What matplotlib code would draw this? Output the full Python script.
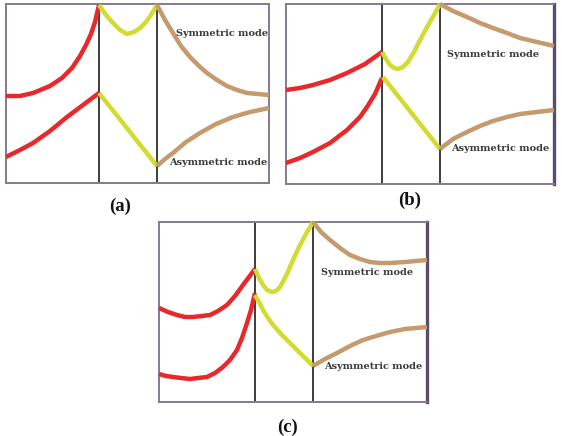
import numpy as np
import matplotlib
matplotlib.use("Agg")
import matplotlib.pyplot as plt

# colores
rojo = '#e8282a'
amarillo = '#d2dc30'
marron = '#c49a6e'

# cajas de cada panel en pixeles (izq, arriba, der, abajo)
cajas = {'a': (6, 4, 269, 183), 'b': (286, 4, 554, 184), 'c': (159, 222, 427, 402)}
divisiones = {'a': [99, 157], 'b': [382, 440], 'c': [255, 313]}

# panel (a)
a_sim_rojo_x = [6, 20, 33, 50, 62, 72, 80, 86, 91, 95, 99]
a_sim_rojo_y = [96, 96, 93, 86, 78, 68, 56, 45, 34, 22, 5]
a_asim_rojo_x = [6, 20, 33, 50, 67, 83, 99]
a_asim_rojo_y = [157, 150, 143, 131, 117, 105, 93]
a_sim_amar_x = [99, 106, 113, 120, 127, 134, 140, 146, 151, 157]
a_sim_amar_y = [5, 15, 23, 30, 34, 32, 28, 22, 15, 5]
a_asim_amar_x = [99, 157]
a_asim_amar_y = [93, 166]
a_sim_marr_x = [157, 165, 173, 181, 190, 199, 207, 217, 227, 237, 247, 258, 269]
a_sim_marr_y = [5, 20, 33, 46, 57, 66, 73, 80, 86, 90, 93, 94, 95]
a_asim_marr_x = [157, 165, 173, 186, 200, 216, 233, 250, 269]
a_asim_marr_y = [166, 159, 153, 142, 133, 124, 117, 112, 108]

# panel (b)
b_sim_rojo_x = [286, 300, 313, 330, 347, 365, 382]
b_sim_rojo_y = [90, 88, 85, 80, 73, 64, 52]
b_asim_rojo_x = [286, 300, 313, 330, 347, 360, 367, 375, 382]
b_asim_rojo_y = [163, 158, 152, 143, 130, 117, 107, 94, 78]
b_sim_amar_x = [382, 386, 390, 394, 398, 403, 408, 414, 420, 427, 434, 440]
b_sim_amar_y = [52, 59, 65, 68, 69, 67, 62, 52, 40, 27, 15, 4]
b_asim_amar_x = [383, 440]
b_asim_amar_y = [77, 149]
b_sim_marr_x = [440, 453, 467, 480, 493, 507, 520, 537, 554]
b_sim_marr_y = [4, 11, 17, 23, 28, 33, 38, 42, 46]
b_asim_marr_x = [440, 453, 467, 480, 493, 507, 520, 537, 554]
b_asim_marr_y = [149, 139, 132, 126, 121, 117, 114, 112, 110]

# panel (c)
c_sim_rojo_x = [159, 168, 177, 185, 193, 202, 210, 218, 227, 235, 243, 249, 255]
c_sim_rojo_y = [308, 312, 315, 317, 317, 316, 315, 311, 305, 296, 285, 277, 269]
c_asim_rojo_x = [159, 166, 173, 181, 190, 198, 207, 215, 223, 230, 237, 242, 247, 251, 255]
c_asim_rojo_y = [374, 376, 377, 378, 379, 378, 377, 373, 367, 360, 350, 338, 323, 310, 293]
c_sim_amar_x = [255, 259, 263, 267, 272, 276, 280, 286, 293, 300, 307, 313]
c_sim_amar_y = [269, 278, 285, 290, 292, 291, 287, 276, 260, 245, 232, 222]
c_asim_amar_x = [255, 259, 263, 268, 273, 281, 290, 300, 313]
c_asim_amar_y = [295, 302, 310, 318, 325, 334, 343, 353, 366]
c_sim_marr_x = [313, 321, 330, 340, 350, 360, 370, 380, 390, 405, 427]
c_sim_marr_y = [222, 232, 240, 248, 255, 259, 262, 263, 263, 262, 260]
c_asim_marr_x = [313, 325, 337, 350, 363, 376, 390, 405, 427]
c_asim_marr_y = [366, 359, 353, 346, 340, 336, 332, 329, 327]

curvas = {
    'a': [(a_sim_rojo_x, a_sim_rojo_y, rojo), (a_asim_rojo_x, a_asim_rojo_y, rojo),
          (a_sim_amar_x, a_sim_amar_y, amarillo), (a_asim_amar_x, a_asim_amar_y, amarillo),
          (a_sim_marr_x, a_sim_marr_y, marron), (a_asim_marr_x, a_asim_marr_y, marron)],
    'b': [(b_sim_rojo_x, b_sim_rojo_y, rojo), (b_asim_rojo_x, b_asim_rojo_y, rojo),
          (b_sim_amar_x, b_sim_amar_y, amarillo), (b_asim_amar_x, b_asim_amar_y, amarillo),
          (b_sim_marr_x, b_sim_marr_y, marron), (b_asim_marr_x, b_asim_marr_y, marron)],
    'c': [(c_sim_rojo_x, c_sim_rojo_y, rojo), (c_asim_rojo_x, c_asim_rojo_y, rojo),
          (c_sim_amar_x, c_sim_amar_y, amarillo), (c_asim_amar_x, c_asim_amar_y, amarillo),
          (c_sim_marr_x, c_sim_marr_y, marron), (c_asim_marr_x, c_asim_marr_y, marron)],
}

# posicion de las etiquetas (centro)
etiquetas = {'a': [(222, 33), (218, 162)], 'b': [(493, 55), (500, 149)], 'c': [(367, 272), (373, 366)]}
textos_modo = ['Symmetric mode', 'Asymmetric mode']
letras = {'a': (120, 206), 'b': (410, 200), 'c': (287, 427)}

W, H = 562, 436
fig = plt.figure(figsize=(W/100, H/100), dpi=100)
fuente = ['Liberation Serif', 'DejaVu Serif']

for p in ['a', 'b', 'c']:
    x0, y0, x1, y1 = cajas[p]
    ax = fig.add_axes([x0/W, 1-y1/H, (x1-x0)/W, (y1-y0)/H])
    ax.set_xlim(x0, x1)
    ax.set_ylim(y1, y0)
    ax.set_xticks([])
    ax.set_yticks([])
    for s in ax.spines.values():
        s.set_color('#847a96')
        s.set_linewidth(1.4)
    if p != 'a':
        ax.spines['right'].set_color('#5a4c6e')
        ax.spines['right'].set_linewidth(2.4)
    for xv in divisiones[p]:
        ax.axvline(xv, color='#2e2e2e', lw=1.3, zorder=1)
    for xs, ys, col in curvas[p]:
        ax.plot(xs, ys, color=col, lw=3.2, solid_capstyle='butt',
                solid_joinstyle='round', clip_on=False, zorder=3)
    for (tx, ty), t in zip(etiquetas[p], textos_modo):
        ax.text(tx, ty, t, ha='center', va='center', fontsize=7,
                fontweight='bold', color='#3a3a3a', family='DejaVu Serif', zorder=4)
    lx, ly = letras[p]
    fig.text(lx/W, 1-ly/H, '(' + p + ')', ha='center', va='center',
             fontsize=13.5, fontweight='bold', family=fuente, color='#111111')

fig.savefig('out.png', dpi=100)
